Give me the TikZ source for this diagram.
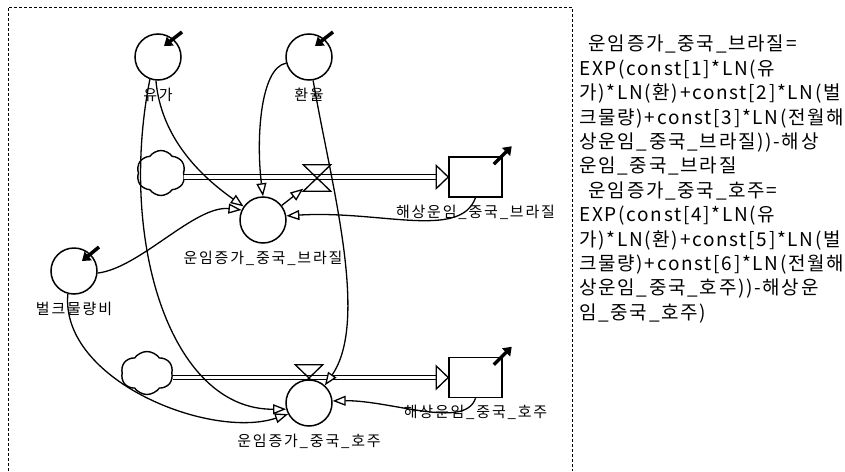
\documentclass[tikz,border=0pt]{standalone}
\usepackage{fontspec}
\setmainfont{Noto Sans CJK KR}[LetterSpace=12]
\newfontfamily\eqfont{Noto Sans CJK KR}[LetterSpace=9]
\usetikzlibrary{arrows.meta,shapes.symbols,positioning}

\begin{document}
\begin{tikzpicture}[x=1pt,y=-1pt,
    aux/.style={circle,draw,line width=1.5pt,fill=white,minimum size=46pt,inner sep=0pt},
    level/.style={rectangle,draw,line width=1.5pt,fill=white,minimum width=53pt,minimum height=40pt,inner sep=0pt},
    src/.style={cloud,cloud puffs=6,cloud puff arc=110,aspect=1.15,draw,line width=1.4pt,minimum width=49pt,minimum height=45pt,inner sep=0pt},
    valve/.style={rectangle,minimum width=27pt,minimum height=26pt,inner sep=0pt},
    link/.style={line width=1.3pt,-{Triangle[length=13pt,width=10pt,fill=white]}},
    pipe/.style={double,double distance=3.2pt,line width=1.2pt},
    shadow/.style={line width=3.5pt,-{Triangle[length=8pt,width=11pt]}},
    every label/.style={font=\fontsize{15}{15}\selectfont,inner sep=0pt},
    label distance=7pt]
    \useasboundingbox (0,0) rectangle (845,471);
    \draw[dash pattern=on 3pt off 2pt,line width=0.8pt] (8,471) -- (8,7) -- (572,7) -- (572,471);

    % sources, levels and valves
    \node[src] (cloudB) at (161,173) {};
    \node[src,minimum width=52pt,minimum height=43pt] (cloudH) at (147,373) {};
    \node[level,label={below:해상운임\_중국\_브라질}] (stockB) at (475.5,177) {};
    \node[level,label={below:해상운임\_중국\_호주}] (stockH) at (475.5,377.5) {};
    \node[valve] (valveB) at (317,178) {};
    \node[valve] (valveH) at (309,378) {};

    \draw[pipe,shorten >=12pt] (cloudB.east |- stockB) -- (stockB.west);
    \draw[pipe,shorten >=12pt] (cloudH.east |- stockH) -- (stockH.west);
    \draw[line width=1.3pt,fill=white] (stockB.west) -- ++(-12,-11.5) -- ++(0,23) -- cycle;
    \draw[line width=1.3pt,fill=white] (stockH.west) -- ++(-12,-11.5) -- ++(0,23) -- cycle;
    \draw[line width=1.3pt] (valveB.north west) -- (valveB.north east) -- (valveB.south west) -- (valveB.south east) -- cycle;
    \draw[line width=1.3pt] (valveH.north west) -- (valveH.north east) -- (valveH.south west) -- (valveH.south east) -- cycle;

    % auxiliaries
    \node[aux,label={below:유가}] (yuga) at (158,57) {};
    \node[aux,label={below:환율}] (hwan) at (309,57) {};
    \node[aux,label={below:벌크물량비}] (bulk) at (74,271) {};
    \node[aux,label={below:운임증가\_중국\_브라질}] (rateB) at (263,220) {};
    \node[aux,label={below:운임증가\_중국\_호주}] (rateH) at (309,403) {};

    \draw[shadow] ([shift={(24,-25)}]yuga.center) -- ([shift={(6,-11)}]yuga.center);
    \draw[shadow] ([shift={(24,-25)}]hwan.center) -- ([shift={(6,-11)}]hwan.center);
    \draw[shadow] ([shift={(25,-24)}]bulk.center) -- ([shift={(8,-10)}]bulk.center);
    \draw[shadow] ([shift={(-9,8)}]stockB.north east) -- ([shift={(9,-10)}]stockB.north east);
    \draw[shadow] ([shift={(-9,8)}]stockH.north east) -- ([shift={(9,-10)}]stockH.north east);

    % links
    \draw[link] (yuga.-95) .. controls (160,125) and (185,165) .. (rateB.145);
    \draw[link] (yuga.-110) .. controls (118,240) and (170,410) .. (rateH.195);
    \draw[link] (hwan.195) .. controls (260,68) and (256,140) .. (rateB.north);
    \draw[link] (hwan.-80) .. controls (330,180) and (370,320) .. (rateH.48);
    \draw[link] (bulk.-5) .. controls (140,268) and (195,205) .. (rateB.155);
    \draw[link] (bulk.-105) .. controls (60,380) and (210,440) .. (rateH.208);
    \draw[link] (stockB.south) .. controls (460,240) and (380,210) .. (rateB.10);
    \draw[link] (stockH.south) .. controls (465,430) and (390,400) .. (rateH.5);
    \draw[link] (rateB) -- (valveB);

    % equations
    \node[anchor=north west,inner sep=0pt,align=left,font=\eqfont\fontsize{19}{24.4}\selectfont] (eqn) at (579,35) {%
        \hspace{0.5em}운임증가\_중국\_브라질=\\
        EXP(const[1]*LN(유\\
        가)*LN(환)+const[2]*LN(벌\\
        크물량)+const[3]*LN(전월해\\
        상운임\_중국\_브라질))-해상\\
        운임\_중국\_브라질\\
        \hspace{0.5em}운임증가\_중국\_호주=\\
        EXP(const[4]*LN(유\\
        가)*LN(환)+const[5]*LN(벌\\
        크물량)+const[6]*LN(전월해\\
        상운임\_중국\_호주))-해상운\\
        임\_중국\_호주)};
\end{tikzpicture}
\end{document}
